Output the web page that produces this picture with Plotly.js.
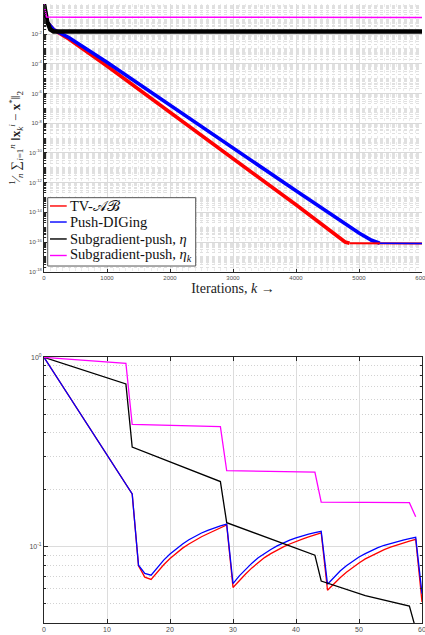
<!DOCTYPE html>
<html>
<head>
<meta charset="utf-8">
<script src="https://cdn.plot.ly/plotly-3.0.1.min.js"></script>
<style>html,body{margin:0;padding:0;background:#fff;}#chart{width:425px;height:635px;}</style>
</head>
<body>
<div id="chart"></div>
<script>
// ---------- Top panel data (iterations 0..6000) ----------
const seriesNames = ['TV-𝒜ℬ', 'Push-DIGing', 'Subgradient-push, <i>η</i>', 'Subgradient-push, <i>η<sub>k</sub></i>'];

const topRedIter   = [0, 50, 150, 400, 1000, 2000, 3000, 4000, 4780, 4850];
const topRedVal    = [1, 6.3e-2, 2.0e-2, 4.5e-3, 7.0e-5, 5.6e-8, 4.5e-11, 3.2e-14, 1.0e-16, 8.2e-17];
const topRedFloorIter = [4850, 5200, 5600, 6000];
const topRedFloorVal  = [8.2e-17, 8.0e-17, 8.1e-17, 8.0e-17];

const topBlueIter  = [0, 50, 150, 400, 1000, 2000, 3000, 4000, 5000, 5200, 5330];
const topBlueVal   = [1, 6.3e-2, 2.0e-2, 5.6e-3, 1.26e-4, 1.6e-7, 2.0e-10, 2.8e-13, 4.0e-16, 1.3e-16, 8.3e-17];
const topBlueFloorIter = [5330, 5600, 6000];
const topBlueFloorVal  = [8.3e-17, 7.9e-17, 7.9e-17];

const topBlackIter = [0, 20, 50, 100, 150, 500, 1000, 1500, 2000, 2500, 3000, 3500, 4000, 4500, 5000, 5500, 6000];
const topBlackVal  = [1, 0.35, 0.07, 0.02, 0.015, 0.0145, 0.015, 0.0148, 0.0152, 0.0146, 0.015, 0.0148, 0.0151, 0.0147, 0.0153, 0.0149, 0.015];

const topMagIter   = [0, 15, 40, 500, 6000];
const topMagVal    = [1, 0.5, 0.14, 0.135, 0.13];

// ---------- Bottom panel data (iterations 0..60) ----------
const botRedIter = [0, 14, 15, 16, 17, 18, 19, 20, 21, 22, 23, 24, 25, 26, 27, 28, 29,
  30, 31, 32, 33, 34, 35, 36, 37, 38, 39, 40, 41, 42, 43, 44,
  45, 46, 47, 48, 49, 50, 51, 52, 53, 54, 55, 56, 57, 58, 59, 60];
const botRedVal = [1, 0.19, 0.0794, 0.0692, 0.0673, 0.0738, 0.0804, 0.0867, 0.0927, 0.0984, 0.1035, 0.1084, 0.1130, 0.1172, 0.1213, 0.1259, 0.1303,
  0.0610, 0.0664, 0.0719, 0.0774, 0.0828, 0.0877, 0.0920, 0.0962, 0.1000, 0.1035, 0.1069, 0.1099, 0.1127, 0.1156, 0.1186,
  0.0590, 0.0638, 0.0687, 0.0735, 0.0780, 0.0822, 0.0863, 0.0899, 0.0933, 0.0966, 0.0995, 0.1023, 0.1050, 0.1072, 0.1096, 0.0512];

const botBlueIter = botRedIter;
const botBlueVal = [1, 0.19, 0.0800, 0.0724, 0.0708, 0.0782, 0.0851, 0.0916, 0.0979, 0.1035, 0.1089, 0.1138, 0.1183, 0.1222, 0.1259, 0.1291, 0.1318,
  0.0640, 0.0703, 0.0764, 0.0820, 0.0875, 0.0925, 0.0968, 0.1012, 0.1050, 0.1084, 0.1114, 0.1143, 0.1167, 0.1189, 0.1208,
  0.0635, 0.0692, 0.0745, 0.0794, 0.0841, 0.0883, 0.0920, 0.0957, 0.0989, 0.1019, 0.1042, 0.1067, 0.1086, 0.1104, 0.1122, 0.0566];

const botBlackIter = [0, 13, 14, 28, 29, 43, 44, 51, 58, 59, 60];
const botBlackVal  = [1, 0.723, 0.336, 0.221, 0.134, 0.0904, 0.066, 0.0552, 0.0487, 0.038, 0.028];

const botMagIter = [0, 13, 14, 28, 29, 43, 44, 58, 59];
const botMagVal  = [1, 0.93, 0.442, 0.431, 0.252, 0.248, 0.172, 0.171, 0.144];

// ---------- Tick labels ----------
const topXTicks = [0, 1000, 2000, 3000, 4000, 5000, 6000];
const topYTickVals = [1, 1e-2, 1e-4, 1e-6, 1e-8, 1e-10, 1e-12, 1e-14, 1e-16, 1e-18];
const topYTickText = ['10<sup>0</sup>', '10<sup>-2</sup>', '10<sup>-4</sup>', '10<sup>-6</sup>', '10<sup>-8</sup>',
  '10<sup>-10</sup>', '10<sup>-12</sup>', '10<sup>-14</sup>', '10<sup>-16</sup>', '10<sup>-18</sup>'];
const botXTicks = [0, 10, 20, 30, 40, 50, 60];
const botYTickVals = [0.1, 1];
const botYTickText = ['10<sup>-1</sup>', '10<sup>0</sup>'];

// minor log grid positions
const topMinor = [];
for (let e = -18; e < 0; e++) {
  for (let m = 1; m <= 9; m++) {
    if (m === 1 && e % 2 === 0) continue;
    topMinor.push(m * Math.pow(10, e));
  }
}
const botMinor = [0.04, 0.05, 0.06, 0.07, 0.08, 0.09, 0.2, 0.3, 0.4, 0.5, 0.6, 0.7, 0.8, 0.9];

const RED = '#ff0000', BLUE = '#0000ff', BLACK = '#000000', MAG = '#ff00ff';
const legendColors = [RED, BLUE, BLACK, MAG];

const traces = [
  {x: topRedIter, y: topRedVal, name: seriesNames[0], mode: 'lines', line: {color: RED, width: 3.6}, xaxis: 'x', yaxis: 'y'},
  {x: topBlueIter, y: topBlueVal, name: seriesNames[1], mode: 'lines', line: {color: BLUE, width: 3.6}, xaxis: 'x', yaxis: 'y'},
  {x: topBlackIter, y: topBlackVal, name: seriesNames[2], mode: 'lines', line: {color: BLACK, width: 4.5}, xaxis: 'x', yaxis: 'y'},
  {x: topMagIter, y: topMagVal, name: seriesNames[3], mode: 'lines', line: {color: MAG, width: 1.5}, xaxis: 'x', yaxis: 'y'},
  {x: topRedFloorIter, y: topRedFloorVal, name: seriesNames[0], mode: 'lines', line: {color: RED, width: 2}, xaxis: 'x', yaxis: 'y'},
  {x: topBlueFloorIter, y: topBlueFloorVal, name: seriesNames[1], mode: 'lines', line: {color: BLUE, width: 1.6}, xaxis: 'x', yaxis: 'y'},
  {x: botRedIter, y: botRedVal, name: seriesNames[0], mode: 'lines', line: {color: RED, width: 1.3}, xaxis: 'x2', yaxis: 'y2'},
  {x: botBlueIter, y: botBlueVal, name: seriesNames[1], mode: 'lines', line: {color: BLUE, width: 1.3}, xaxis: 'x2', yaxis: 'y2'},
  {x: botBlackIter, y: botBlackVal, name: seriesNames[2], mode: 'lines', line: {color: BLACK, width: 1.3}, xaxis: 'x2', yaxis: 'y2'},
  {x: botMagIter, y: botMagVal, name: seriesNames[3], mode: 'lines', line: {color: MAG, width: 1.3}, xaxis: 'x2', yaxis: 'y2'}
];

const AX = '#262626';
const tickFontTop = {family: 'Liberation Sans, Arial, sans-serif', size: 6, color: '#4d4d4d'};
const tickFontBot = {family: 'Liberation Sans, Arial, sans-serif', size: 7, color: '#4d4d4d'};
const serif = 'Liberation Serif, Times New Roman, serif';

// ---------- Compact legend box (in paper coordinates of the top panel) ----------
const legBox = {x0: 0.0098, x1: 0.4013, y0: 0.5767, y1: 0.6871};
const legRowY = [0.6737, 0.6478, 0.6204, 0.5937];
const legKeyX = [0.0159, 0.0601];
const legTextX = 0.0635;

const shapes = [
  {type: 'rect', xref: 'paper', yref: 'paper', x0: legBox.x0, x1: legBox.x1, y0: legBox.y0, y1: legBox.y1,
    line: {color: '#555555', width: 1}, fillcolor: '#ffffff', layer: 'above'}
];
const annotations = [];
seriesNames.forEach((nm, i) => {
  shapes.push({type: 'line', xref: 'paper', yref: 'paper', x0: legKeyX[0], x1: legKeyX[1], y0: legRowY[i], y1: legRowY[i],
    line: {color: legendColors[i], width: 1.4}, layer: 'above'});
  annotations.push({xref: 'paper', yref: 'paper', x: legTextX, y: legRowY[i], xanchor: 'left', yanchor: 'middle',
    text: nm, showarrow: false, font: {family: serif, size: 14.5, color: '#111'}});
});

const layout = {
  width: 425, height: 635,
  margin: {l: 44, r: 3, t: 4, b: 12},
  paper_bgcolor: '#ffffff', plot_bgcolor: '#ffffff',
  showlegend: false,
  shapes: shapes,
  annotations: annotations,
  xaxis: {
    domain: [0, 1], anchor: 'y', range: [0, 6000],
    tickmode: 'array', tickvals: topXTicks, ticktext: topXTicks.map(String),
    ticks: 'inside', ticklen: 3, tickcolor: AX, ticklabeloverflow: 'allow',
    showline: true, linecolor: AX, linewidth: 1, zeroline: false,
    showgrid: true, gridcolor: '#dddddd', gridwidth: 1,
    minor: {dtick: 100, showgrid: true, gridcolor: '#ebebeb', griddash: 'dot', ticks: ''},
    tickfont: tickFontTop,
    title: {text: 'Iterations, <i>k</i> →', font: {family: serif, size: 14, color: '#222'}, standoff: 3}
  },
  yaxis: {
    domain: [0.5675, 1], anchor: 'x', type: 'log', range: [-18, 0.02],
    tickmode: 'array', tickvals: topYTickVals, ticktext: topYTickText,
    ticks: 'inside', ticklen: 3, tickcolor: AX,
    showline: true, linecolor: AX, linewidth: 1, zeroline: false,
    showgrid: true, gridcolor: '#d9d9d9', gridwidth: 1,
    minor: {tickmode: 'array', tickvals: topMinor, showgrid: true, gridcolor: '#e0e0e0', griddash: 'dot', ticks: 'inside', ticklen: 2, tickcolor: AX},
    tickfont: tickFontTop,
    title: {text: '<sup>1</sup>⁄<sub><i>n</i></sub> ∑<sub><i>i</i>=1</sub><sup><i>n</i></sup> ‖<b>x</b><sub><i>k</i></sub><sup><i>i</i></sup> − <b>x</b><sup>*</sup>‖<sub>2</sub>',
      font: {family: serif, size: 13, color: '#222'}, standoff: 5}
  },
  xaxis2: {
    domain: [0, 1], anchor: 'y2', range: [0, 60],
    tickmode: 'array', tickvals: botXTicks, ticktext: botXTicks.map(String),
    ticks: 'inside', ticklen: 4, tickcolor: AX, ticklabeloverflow: 'allow',
    showline: true, linecolor: AX, linewidth: 1, mirror: 'ticks', zeroline: false,
    showgrid: true, gridcolor: '#dcdcdc', gridwidth: 1,
    tickfont: tickFontBot
  },
  yaxis2: {
    domain: [0, 0.4302], anchor: 'x2', type: 'log', range: [-1.402, 0.003],
    tickmode: 'array', tickvals: botYTickVals, ticktext: botYTickText,
    ticks: 'inside', ticklen: 4, tickcolor: AX,
    showline: true, linecolor: AX, linewidth: 1, mirror: 'ticks', zeroline: false,
    showgrid: true, gridcolor: '#dcdcdc', gridwidth: 1,
    minor: {tickmode: 'array', tickvals: botMinor, showgrid: true, gridcolor: '#d2d2d2', griddash: '1px,2px', ticks: 'inside', ticklen: 2, tickcolor: AX},
    tickfont: tickFontBot
  }
};

Plotly.newPlot('chart', traces, layout, {displayModeBar: false, staticPlot: true});
</script>
</body>
</html>
